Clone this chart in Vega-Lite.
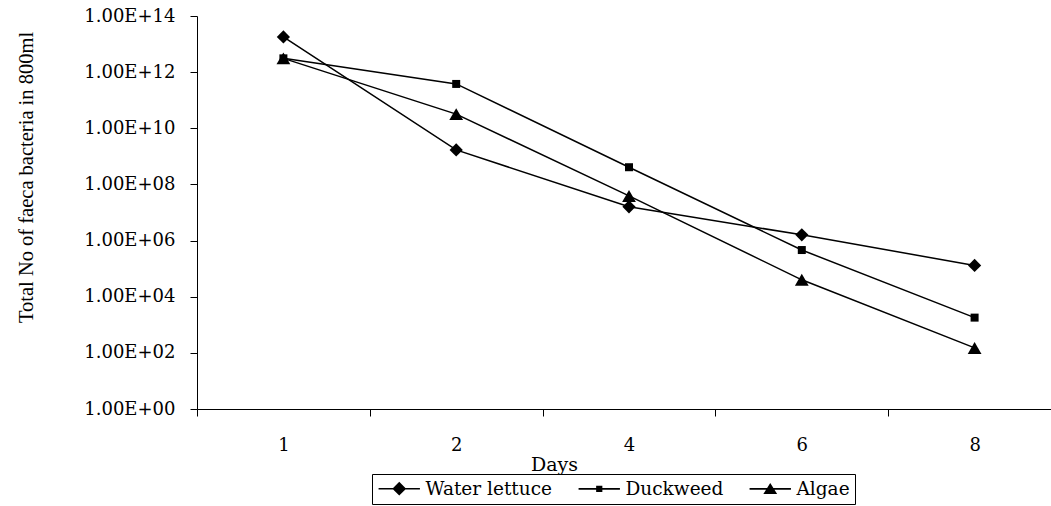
{
  "$schema": "https://vega.github.io/schema/vega-lite/v6.json",
  "width": 854,
  "height": 393,
  "autosize": {"type": "none"},
  "padding": {"left": 197, "top": 16, "right": 0, "bottom": 97},
  "background": "white",
  "config": {
    "view": {"stroke": null},
    "font": "DejaVu Serif",
    "axis": {"grid": false, "domainColor": "black", "tickColor": "black", "labelColor": "black", "titleColor": "black", "titleFontWeight": "normal", "domainWidth": 1, "tickWidth": 1}
  },
  "data": {
    "values": [
      {"day": "1", "series": "Water lettuce", "value": 1.8e13},
      {"day": "2", "series": "Water lettuce", "value": 1.7e9},
      {"day": "4", "series": "Water lettuce", "value": 1.6e7},
      {"day": "6", "series": "Water lettuce", "value": 1.6e6},
      {"day": "8", "series": "Water lettuce", "value": 1.3e5},
      {"day": "1", "series": "Duckweed", "value": 3.1e12},
      {"day": "2", "series": "Duckweed", "value": 3.8e11},
      {"day": "4", "series": "Duckweed", "value": 4.1e8},
      {"day": "6", "series": "Duckweed", "value": 4.6e5},
      {"day": "8", "series": "Duckweed", "value": 1.8e3},
      {"day": "1", "series": "Algae", "value": 3.1e12},
      {"day": "2", "series": "Algae", "value": 3.2e10},
      {"day": "4", "series": "Algae", "value": 3.9e7},
      {"day": "6", "series": "Algae", "value": 4.0e4},
      {"day": "8", "series": "Algae", "value": 1.5e2}
    ]
  },
  "encoding": {
    "x": {
      "field": "day", "type": "ordinal", "sort": ["1", "2", "4", "6", "8"],
      "bandPosition": 0.5,
      "scale": {"type": "band", "paddingInner": 0, "paddingOuter": 0, "range": [0, 864]},
      "axis": {
        "title": "Days", "titleFont": "DejaVu Serif", "titleFontSize": 19, "titleX": 357, "titleY": 61, "titleAlign": "center", "titleBaseline": "alphabetic",
        "labelAngle": 0, "labelFontSize": 18, "labelPadding": 20, "tickSize": 7, "tickBand": "extent"
      }
    },
    "y": {
      "field": "value", "type": "quantitative",
      "scale": {"type": "log", "domain": [1, 1e14]},
      "axis": {
        "title": "Total No of faeca bacteria in 800ml", "titleFont": "Liberation Serif", "titleFontSize": 20.5,
        "titleAngle": -90, "titleX": -165, "titleY": 161, "titleAlign": "center", "titleBaseline": "alphabetic",
        "values": [1, 100, 10000, 1000000, 100000000, 10000000000, 1000000000000, 100000000000000],
        "labelExpr": "'1.00E+' + (round(log(datum.value)/LN10) < 10 ? '0' : '') + round(log(datum.value)/LN10)",
        "labelFontSize": 18, "labelPadding": 15, "tickSize": 7
      }
    }
  },
  "layer": [
    {
      "mark": {"type": "line", "color": "black", "strokeWidth": 1.5},
      "encoding": {"detail": {"field": "series", "type": "nominal"}}
    },
    {
      "transform": [{"filter": "datum.series === 'Water lettuce'"}],
      "mark": {"type": "point", "shape": "diamond", "filled": true, "color": "black", "opacity": 1, "size": 175}
    },
    {
      "transform": [{"filter": "datum.series === 'Duckweed'"}],
      "mark": {"type": "point", "shape": "square", "filled": true, "color": "black", "opacity": 1, "size": 64}
    },
    {
      "transform": [{"filter": "datum.series === 'Algae'"}],
      "mark": {"type": "point", "shape": "triangle-up", "filled": true, "color": "black", "opacity": 1, "size": 190}
    },
    {
      "mark": {"type": "point", "filled": true, "color": "black", "opacity": 1, "size": 0},
      "encoding": {
        "shape": {
          "field": "series", "type": "nominal",
          "scale": {
            "domain": ["Water lettuce", "Duckweed", "Algae"],
            "range": [
              "M-3,-0.11H3V0.11H-3ZM0,-1L1,0L0,1L-1,0Z",
              "M-3,-0.11H3V0.11H-3ZM-0.45,-0.45H0.45V0.45H-0.45Z",
              "M-3,-0.11H3V0.11H-3ZM0,-0.85L1,0.75H-1Z"
            ]
          },
          "legend": {
            "title": null, "orient": "none", "legendX": 175, "legendY": 458, "direction": "horizontal",
            "strokeColor": "black", "padding": 5, "symbolOffset": 13, "labelOffset": 17, "columnPadding": 22,
            "labelFont": "DejaVu Serif", "labelFontSize": 18.5, "labelColor": "black", "symbolSize": 190,
            "symbolFillColor": "black", "symbolOpacity": 1
          }
        }
      }
    }
  ]
}
